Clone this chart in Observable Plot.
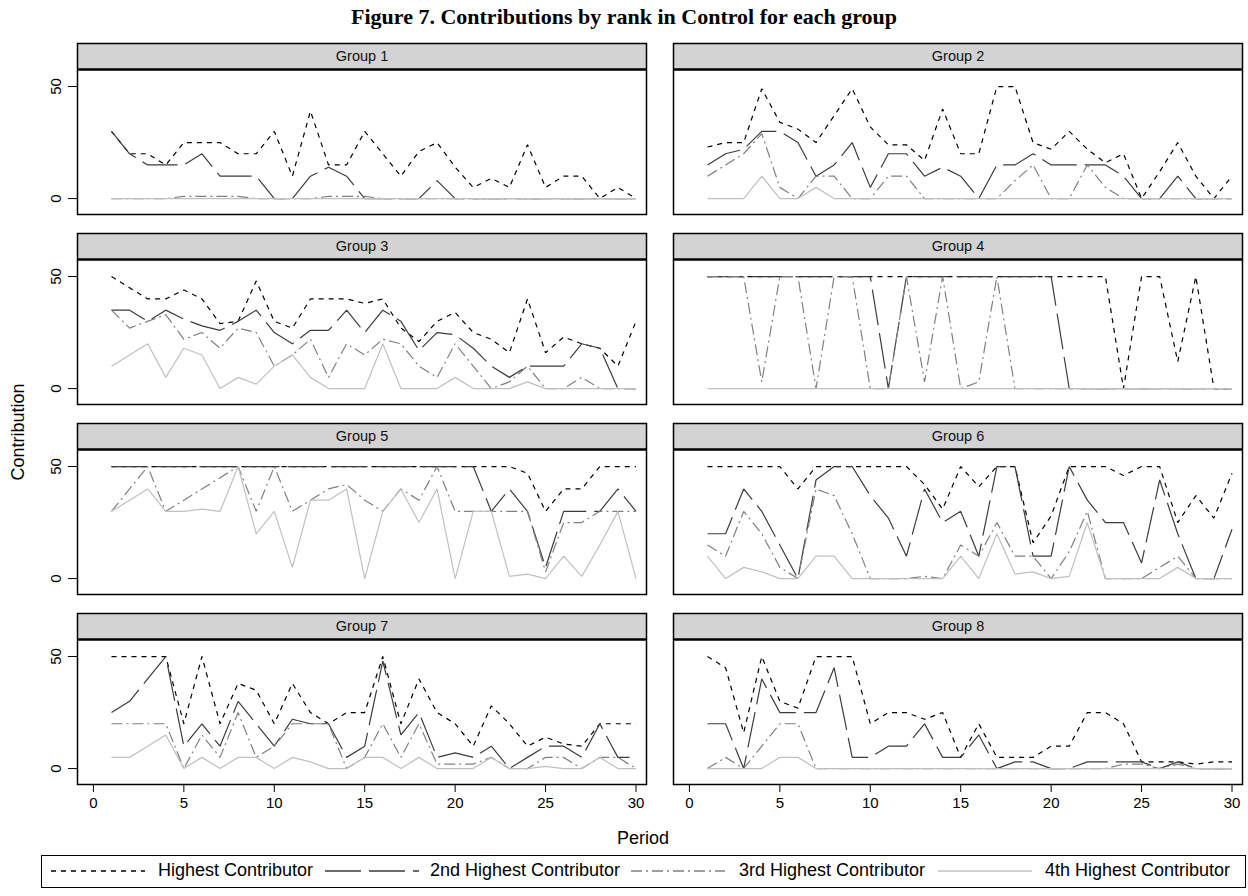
<!DOCTYPE html>
<html>
<head>
<meta charset="utf-8">
<script src="https://cdn.jsdelivr.net/npm/d3@7"></script>
<script src="https://cdn.jsdelivr.net/npm/@observablehq/plot@0.6"></script>
<style>
  body { margin: 0; background: #fff; font-family: "Liberation Sans", Arial, sans-serif; }
  #title { width: 1248px; height: 36px; text-align: center; font: bold 22px "Liberation Serif", "Times New Roman", serif; line-height: 34px; color: #000; }
  #legend { position: relative; width: 1248px; height: 48px; }
  #legend .box { position: absolute; left: 41px; top: 7px; width: 1203px; height: 31px; border: 1px solid #000; }
  #legend .lab { position: absolute; top: 11px; font-size: 18px; line-height: 22px; color: #000; white-space: nowrap; }
  #legend svg { position: absolute; top: 7px; }
</style>
</head>
<body>
<div id="title">Figure 7. Contributions by rank in Control for each group</div>
<div id="chart"></div>
<div id="legend"></div>
<script>
// ---------- data ----------
const periods = d3.range(1, 31);
const groupNames = ["Group 1", "Group 2", "Group 3", "Group 4", "Group 5", "Group 6", "Group 7", "Group 8"];
const rankNames = ["Highest Contributor", "2nd Highest Contributor", "3rd Highest Contributor", "4th Highest Contributor"];
const xTicks = [0, 5, 10, 15, 20, 25, 30];
const yTicks = [0, 50];

const g1r1 = [30,20,20,15,25,25,25,20,20,30,10,39,15,15,30,20,10,21,25,14,5,9,5,24,5,10,10,0,5,0];
const g1r2 = [30,20,15,15,15,20,10,10,10,0,0,10,14,10,0,0,0,0,8,0,0,0,0,0,0,0,0,0,0,0];
const g1r3 = [0,0,0,0,1,1,1,1,0,0,0,0,1,1,1,0,0,0,0,0,0,0,0,0,0,0,0,0,0,0];
const g1r4 = [0,0,0,0,0,0,0,0,0,0,0,0,0,0,0,0,0,0,0,0,0,0,0,0,0,0,0,0,0,0];

const g2r1 = [23,25,25,49,34,31,25,37,49,32,24,24,17,40,20,20,50,50,25,22,30,22,16,20,0,12,25,10,0,10];
const g2r2 = [15,20,22,30,30,25,10,15,25,5,20,20,10,14,10,0,15,15,20,15,15,15,15,10,0,0,10,0,0,0];
const g2r3 = [10,15,20,29,5,0,10,10,0,0,10,10,0,0,0,0,0,8,15,0,0,15,5,0,0,0,0,0,0,0];
const g2r4 = [0,0,0,10,0,0,5,0,0,0,0,0,0,0,0,0,0,0,0,0,0,0,0,0,0,0,0,0,0,0];

const g3r1 = [50,45,40,40,44,40,29,30,48,30,27,40,40,40,38,40,27,21,30,34,25,22,16,40,16,23,20,18,10,30];
const g3r2 = [35,35,30,35,31,28,26,30,35,25,20,26,26,35,25,35,30,17,25,24,18,10,5,10,10,10,20,18,0,0];
const g3r3 = [35,27,30,33,22,25,18,27,25,10,15,22,5,20,15,22,20,10,5,20,10,0,3,10,0,0,5,0,0,0];
const g3r4 = [10,15,20,5,18,15,0,5,2,10,15,5,0,0,0,20,0,0,0,5,0,0,0,3,0,0,0,0,0,0];

const g4r1 = [50,50,50,50,50,50,50,50,50,50,50,50,50,50,50,50,50,50,50,50,50,50,50,0,50,50,12,50,0,0];
const g4r2 = [50,50,50,50,50,50,50,50,50,50,0,50,50,50,50,50,50,50,50,50,0,0,0,0,0,0,0,0,0,0];
const g4r3 = [50,50,50,3,50,50,0,50,50,0,0,50,3,50,0,3,50,0,0,0,0,0,0,0,0,0,0,0,0,0];
const g4r4 = [0,0,0,0,0,0,0,0,0,0,0,0,0,0,0,0,0,0,0,0,0,0,0,0,0,0,0,0,0,0];

const g5r1 = [50,50,50,50,50,50,50,50,50,50,50,50,50,50,50,50,50,50,50,50,50,50,50,47,30,40,40,50,50,50];
const g5r2 = [50,50,50,50,50,50,50,50,50,50,50,50,50,50,50,50,50,50,50,50,50,30,40,30,5,30,30,30,40,30];
const g5r3 = [30,40,50,30,35,40,45,50,30,50,30,35,40,42,35,30,40,35,50,30,30,30,30,30,3,25,25,30,30,30];
const g5r4 = [30,35,40,30,30,31,30,50,20,30,5,35,35,40,0,30,40,25,40,0,30,30,1,2,0,10,1,15,30,0];

const g6r1 = [50,50,50,50,50,40,50,50,50,50,50,50,42,31,50,41,50,50,16,28,50,50,50,46,50,50,25,37,27,47];
const g6r2 = [20,20,40,30,15,0,44,50,50,37,27,10,40,25,30,10,50,50,10,10,50,35,25,25,7,44,20,0,0,22];
const g6r3 = [15,10,30,20,5,0,40,37,20,0,0,0,1,0,15,10,25,10,10,0,12,30,0,0,0,5,10,0,0,0];
const g6r4 = [10,0,5,3,0,0,10,10,0,0,0,0,0,0,10,0,20,2,3,0,1,25,0,0,0,0,5,0,0,0];

const g7r1 = [50,50,50,50,20,50,20,38,35,20,38,25,20,25,25,50,20,40,25,20,10,28,20,10,14,11,10,20,20,20];
const g7r2 = [25,30,40,50,10,20,10,30,20,10,22,20,20,5,10,48,15,25,5,7,5,10,0,5,10,10,5,20,5,5];
const g7r3 = [20,20,20,20,0,15,5,25,5,10,20,20,20,0,5,20,5,20,2,2,2,5,0,0,5,5,0,5,5,0];
const g7r4 = [5,5,10,15,0,5,0,5,5,0,5,3,0,0,5,5,0,5,0,0,0,5,0,0,1,0,0,5,0,0];

const g8r1 = [50,45,16,50,30,27,50,50,50,20,25,25,22,25,5,20,5,5,5,10,10,25,25,20,3,3,3,2,3,3];
const g8r2 = [20,20,0,40,25,25,25,45,5,5,10,10,20,5,5,15,0,3,3,0,0,3,3,3,3,0,3,0,0,0];
const g8r3 = [0,5,0,10,20,20,0,0,0,0,0,0,0,0,0,0,0,0,0,0,0,0,0,2,2,0,2,0,0,0];
const g8r4 = [0,0,0,0,5,5,0,0,0,0,0,0,0,0,0,0,0,0,0,0,0,0,0,0,0,0,0,0,0,0];

const seriesByGroup = [
  [g1r1, g1r2, g1r3, g1r4], [g2r1, g2r2, g2r3, g2r4],
  [g3r1, g3r2, g3r3, g3r4], [g4r1, g4r2, g4r3, g4r4],
  [g5r1, g5r2, g5r3, g5r4], [g6r1, g6r2, g6r3, g6r4],
  [g7r1, g7r2, g7r3, g7r4], [g8r1, g8r2, g8r3, g8r4]
];

// ---------- styles ----------
const rankStroke = ["#000000", "#3c3c3c", "#808080", "#c0c0c0"];
const rankDash = ["5,5", "36,8", "11,4,2,4", null];

// ---------- build tidy table ----------
const rows = [];
seriesByGroup.forEach((ranks, gi) => {
  ranks.forEach((vals, ri) => {
    vals.forEach((v, pi) => rows.push({
      group: groupNames[gi], col: gi % 2, row: Math.floor(gi / 2),
      rank: ri, period: periods[pi], value: v
    }));
  });
});
const groups = groupNames.map((g, gi) => ({group: g, col: gi % 2, row: Math.floor(gi / 2)}));

// layout constants (panel geometry in data units)
const X_DOMAIN = [-0.88, 30.58];
const Y_DOMAIN = [-7.1, 69.2];
const STRIP_BASE = 57.6;

const lineMarks = rankNames.map((name, ri) => Plot.line(rows.filter(d => d.rank === ri), {
  fx: "col", fy: "row", x: "period", y: "value",
  stroke: rankStroke[ri], strokeWidth: 1.2,
  strokeDasharray: rankDash[ri] || undefined,
  strokeLinecap: "butt", strokeLinejoin: "miter"
}));

const chart = Plot.plot({
  width: 1248,
  height: 812,
  marginTop: 6,
  marginBottom: 64,
  marginLeft: 76,
  marginRight: 5,
  style: {fontFamily: "'Liberation Sans', Arial, sans-serif", color: "#000", background: "#fff"},
  fx: {domain: [0, 1], paddingInner: 0.0452, paddingOuter: 0, axis: null},
  fy: {domain: [0, 1, 2, 3], paddingInner: 0.1016, paddingOuter: 0, axis: null},
  x: {domain: X_DOMAIN},
  y: {domain: Y_DOMAIN},
  marks: [
    Plot.rect(groups, {fx: "col", fy: "row", x1: X_DOMAIN[0], x2: X_DOMAIN[1], y1: STRIP_BASE, y2: Y_DOMAIN[1], fill: "#d3d3d3"}),
    Plot.ruleY(groups, {fx: "col", fy: "row", y: STRIP_BASE, stroke: "#000", strokeWidth: 2.5}),
    Plot.text(groups, {fx: "col", fy: "row", text: "group", frameAnchor: "top", lineAnchor: "middle", dy: 13, fontSize: 14.5, fill: "#111"}),
    ...lineMarks,
    Plot.frame({stroke: "#000", strokeWidth: 1.5}),
    Plot.axisX({ticks: xTicks, tickSize: 8, tickPadding: 5, fontSize: 15, label: null, facetAnchor: "bottom", anchor: "bottom"}),
    Plot.axisY({ticks: yTicks, tickSize: 9, tickPadding: 8, tickRotate: -90, fontSize: 15, label: null, facetAnchor: "left", anchor: "left"})
  ]
});

document.getElementById("chart").appendChild(chart);

// axis titles
const svg = d3.select(chart);
svg.append("text")
  .attr("x", 643).attr("y", 808)
  .attr("text-anchor", "middle")
  .attr("font-size", 18).attr("fill", "#000")
  .text("Period");
svg.append("text")
  .attr("transform", "translate(24,396) rotate(-90)")
  .attr("text-anchor", "middle")
  .attr("font-size", 18).attr("fill", "#000")
  .text("Contribution");

// ---------- legend ----------
const legend = d3.select("#legend");
legend.append("div").attr("class", "box");
const sampleX = [51, 325, 631, 938];
const labelX = [158, 430, 739, 1045];
rankNames.forEach((name, ri) => {
  const s = legend.append("svg")
    .attr("width", 95).attr("height", 32)
    .style("left", sampleX[ri] + "px");
  s.append("line")
    .attr("x1", 0).attr("x2", 94).attr("y1", 16).attr("y2", 16)
    .attr("stroke", rankStroke[ri]).attr("stroke-width", 1.6)
    .attr("stroke-dasharray", rankDash[ri]);
  legend.append("div").attr("class", "lab")
    .style("left", labelX[ri] + "px")
    .text(name);
});
</script>
</body>
</html>
